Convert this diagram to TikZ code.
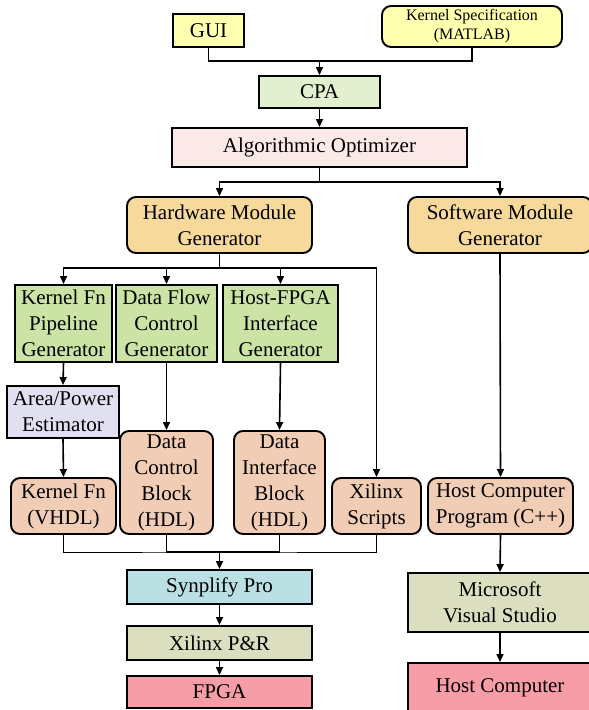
\documentclass[tikz,border=0pt]{standalone}
\usepackage{fontspec}
\setmainfont{Liberation Serif}
\usetikzlibrary{arrows.meta}
\definecolor{inyel}{RGB}{255,255,176}
\definecolor{cpagreen}{RGB}{226,240,208}
\definecolor{optpink}{RGB}{251,233,231}
\definecolor{genorange}{RGB}{247,217,155}
\definecolor{gengreen}{RGB}{203,228,165}
\definecolor{estlav}{RGB}{225,224,240}
\definecolor{hdlpeach}{RGB}{242,205,182}
\definecolor{synblue}{RGB}{186,224,228}
\definecolor{toololive}{RGB}{220,222,192}
\definecolor{targetred}{RGB}{247,157,168}
\tikzset{
  >=Triangle,
  box/.style={rectangle, draw, line width=1.9pt, inner sep=0pt, align=center, font=\fontsize{21}{26}\selectfont},
  rbox/.style={box, rounded corners=9pt},
  ln/.style={line width=1.6pt},
  arr/.style={-{Triangle[length=8pt,width=7pt]}, line width=1.6pt},
  bus/.style={line width=1pt}
}
\begin{document}
\begin{tikzpicture}[x=1pt,y=-1pt]
    \useasboundingbox (0,0) rectangle (589,710);

    % Inputs
    \node[box, fill=inyel, minimum width=71pt, minimum height=33pt] (gui) at (208.5,30.5) {GUI};
    \node[rbox, fill=inyel, minimum width=180pt, minimum height=41pt, font=\fontsize{16}{19}\selectfont] (kspec) at (472,26.5) {Kernel Specification\\(MATLAB)};
    \node[box, fill=cpagreen, minimum width=121pt, minimum height=32pt] (cpa) at (319.5,92) {CPA};
    \node[box, fill=optpink, minimum width=295pt, minimum height=39pt] (algo) at (319.5,147.5) {Algorithmic Optimizer};

    % Module generators
    \node[rbox, fill=genorange, minimum width=185pt, minimum height=56pt] (hwgen) at (219.5,225) {Hardware Module\\Generator};
    \node[rbox, fill=genorange, minimum width=184pt, minimum height=56pt] (swgen) at (500,225) {Software Module\\Generator};

    % Hardware branch
    \node[box, fill=gengreen, minimum width=97pt, minimum height=77pt] (kfgen) at (63.5,323.5) {Kernel Fn\\Pipeline\\Generator};
    \node[box, fill=gengreen, minimum width=101pt, minimum height=77pt] (dfgen) at (166.5,323.5) {Data Flow\\Control\\Generator};
    \node[box, fill=gengreen, minimum width=115pt, minimum height=77pt] (hfgen) at (280.5,323.5) {Host-FPGA\\Interface\\Generator};
    \node[box, fill=estlav, minimum width=112pt, minimum height=52pt] (est) at (63,412) {Area/Power\\Estimator};
    \node[rbox, fill=hdlpeach, minimum width=105pt, minimum height=56pt] (kfvhdl) at (63.5,506) {Kernel Fn\\(VHDL)};
    \node[rbox, fill=hdlpeach, minimum width=93pt, minimum height=103pt] (dcblk) at (166.5,482.5) {Data\\Control\\Block\\(HDL)};
    \node[rbox, fill=hdlpeach, minimum width=91pt, minimum height=103pt] (diblk) at (279.5,482.5) {Data\\Interface\\Block\\(HDL)};
    \node[rbox, fill=hdlpeach, minimum width=89pt, minimum height=56pt] (xscr) at (376.5,506) {Xilinx\\Scripts};
    \node[box, fill=synblue, minimum width=185pt, minimum height=34pt] (syn) at (219.5,587) {Synplify Pro};
    \node[box, fill=toololive, minimum width=185pt, minimum height=34pt] (par) at (219.5,643) {Xilinx P\&R};
    \node[box, fill=targetred, minimum width=185pt, minimum height=32pt] (fpga) at (219.5,692) {FPGA};

    % Software branch
    \node[rbox, fill=hdlpeach, minimum width=145pt, minimum height=56pt] (hprog) at (500.5,506) {Host Computer\\Program (C++)};
    \node[box, fill=toololive, minimum width=184pt, minimum height=59pt] (vs) at (500,602.5) {Microsoft\\Visual Studio};
    \node[box, fill=targetred, minimum width=184pt, minimum height=50pt] (host) at (500,688) {Host Computer};

    % Junctions
    \coordinate (j1) at (319.5,61);
    \coordinate (j2) at (319.5,182);
    \coordinate (j3) at (219.5,268);
    \coordinate (j4) at (219.5,552);

    % Top connectors
    \draw[ln] (gui.south) |- (j1) -| (kspec.south);
    \draw[arr] (j1) -- (cpa.north);
    \draw[arr] (cpa.south) -- (algo.north);
    \draw[ln] (algo.south) -- (j2);
    \draw[arr] (j2) -| (hwgen.north);
    \draw[arr] (j2) -| (swgen.north);

    % Hardware connectors
    \draw[ln] (hwgen.south) -- (j3);
    \draw[arr] (j3) -| (kfgen.north);
    \draw[arr] (j3) -| (dfgen.north);
    \draw[arr] (j3) -| (hfgen.north);
    \draw[arr] (j3) -| (xscr.north);
    \draw[arr] (kfgen.south) -- (est.north);
    \draw[arr] (est.south) -- (kfvhdl.north);
    \draw[arr] (dfgen.south) -- (dcblk.north);
    \draw[arr] (hfgen.south) -- (diblk.north);
    \draw[bus] (kfvhdl.south) |- (j4) -| (xscr.south);
    \draw[ln] (dcblk.south) |- (j4) -| (diblk.south);
    \draw[arr] (j4) -- (syn.north);
    \draw[arr] (syn.south) -- (par.north);
    \draw[arr] (par.south) -- (fpga.north);

    % Software connectors
    \draw[arr] (swgen.south) -- (hprog.north);
    \draw[arr] (hprog.south) -- (vs.north);
    \draw[arr] (vs.south) -- (host.north);

\end{tikzpicture}
\end{document}
